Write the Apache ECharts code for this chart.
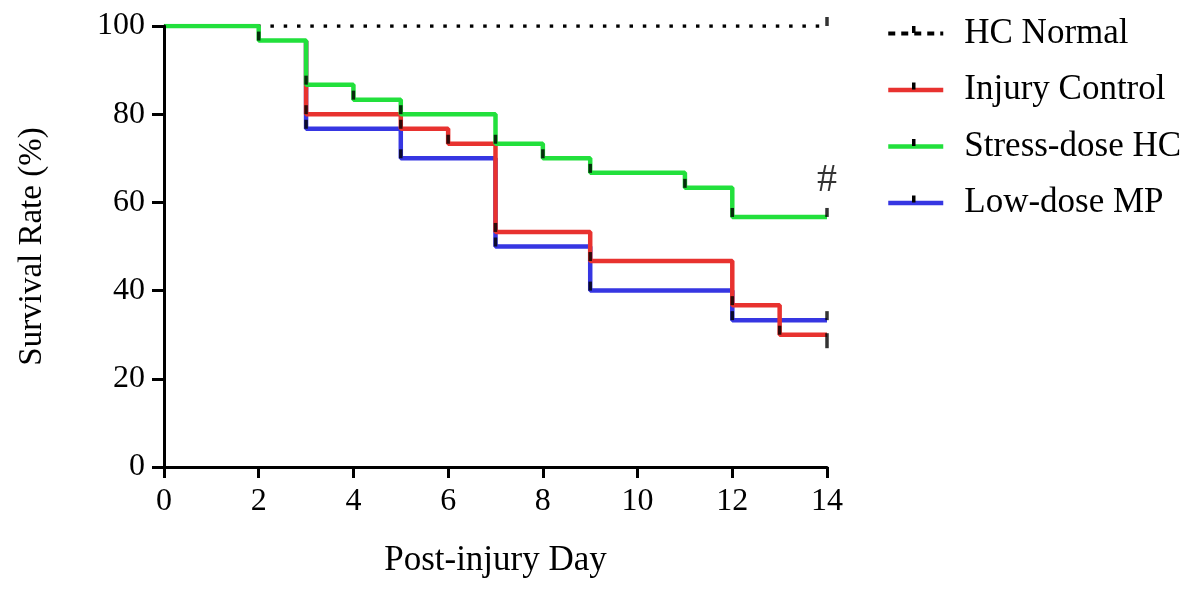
<!DOCTYPE html>
<html><head><meta charset="utf-8">
<script src="https://cdn.jsdelivr.net/npm/echarts@6/dist/echarts.min.js"></script>
<style>html,body{margin:0;padding:0;background:#fff}#c{width:1200px;height:589px}</style>
</head><body><div id="c"></div>
<script>
// ---- data (Kaplan-Meier survival, %) ----
const hcNormalDays = [0, 14];
const hcNormalSurv = [100, 100];
const injuryDays = [0, 3, 5, 6, 7, 9, 12, 13, 14];
const injurySurv = [100, 80, 76.7, 73.3, 53.3, 46.7, 36.7, 30, 30];
const stressDays = [0, 2, 3, 4, 5, 7, 8, 9, 11, 12, 14];
const stressSurv = [100, 96.7, 86.7, 83.3, 80, 73.3, 70, 66.7, 63.3, 56.7, 56.7];
const lowDays = [0, 3, 5, 7, 9, 12, 14];
const lowSurv = [100, 76.7, 70, 50, 40, 33.3, 33.3];
const seriesNames = ['HC Normal', 'Injury Control', 'Stress-dose HC', 'Low-dose MP'];
const sigLabel = '#';

const FONT = 'Liberation Serif';
const C_GREEN = '#22e03c', C_RED = '#e8322f', C_BLUE = '#3636e2';
const LW = 4.5;

const pairs = (d, s) => d.map((x, i) => [x, s[i]]);
const ticksOf = (d, s) => d.slice(1).map((x, i) => [x, s[i + 1]]);

const tickBase = {
  type: 'scatter', symbol: 'rect', symbolSize: [3.5, 9], symbolOffset: [0, '-50%'],
  itemStyle: { color: '#000' }, z: 10, silent: true
};

const injTicks = ticksOf(injuryDays, injurySurv).map((p, i, a) =>
  i === a.length - 1 ? { value: p, symbolSize: [3.5, 15], symbolOffset: [0, 6] } : { value: p });
const stTicks = ticksOf(stressDays, stressSurv).map((p, i, a) =>
  i === a.length - 1 ? { value: p, label: { show: true, formatter: sigLabel, position: 'top', distance: 7,
    fontFamily: FONT, fontSize: 40, color: '#000' } } : { value: p });

const option = {
  animation: false,
  backgroundColor: '#fff',
  grid: { left: 164, right: 373, top: 26, bottom: 122 },
  xAxis: {
    type: 'value', min: 0, max: 14, interval: 2, z: 20,
    name: 'Post-injury Day', nameLocation: 'middle', nameGap: 76,
    nameTextStyle: { fontFamily: FONT, fontSize: 35, color: '#000' },
    axisLine: { lineStyle: { color: '#000', width: 3 } },
    axisTick: { length: 11, lineStyle: { color: '#000', width: 3 } },
    axisLabel: { fontFamily: FONT, fontSize: 32, color: '#000', margin: 19 },
    splitLine: { show: false }
  },
  yAxis: {
    type: 'value', min: 0, max: 100, interval: 20, z: 20,
    name: 'Survival Rate (%)', nameLocation: 'middle', nameGap: 115,
    nameTextStyle: { fontFamily: FONT, fontSize: 33, color: '#000' },
    axisLine: { show: true, lineStyle: { color: '#000', width: 3 } },
    axisTick: { show: true, length: 12, lineStyle: { color: '#000', width: 3 } },
    axisLabel: { fontFamily: FONT, fontSize: 32, color: '#000', margin: 19 },
    splitLine: { show: false }
  },
  legend: {
    orient: 'vertical', left: 886, top: 16, padding: 0, itemWidth: 55, itemHeight: 14, itemGap: 21.5,
    itemStyle: { opacity: 0 },
    textStyle: { fontFamily: FONT, fontSize: 35, color: '#000', lineHeight: 35, padding: [0, 0, 0, 16] },
    data: [
      { name: seriesNames[0], lineStyle: { type: [7, 6], width: 4, color: '#000' } },
      { name: seriesNames[1], lineStyle: { width: 4.5 } },
      { name: seriesNames[2], lineStyle: { width: 4.5 } },
      { name: seriesNames[3], lineStyle: { width: 4.5 } }
    ],
    selectedMode: false
  },
  graphic: [0, 1, 2, 3].map(i => ({
    type: 'rect', left: 912, top: 26 + i * 56.5, shape: { width: 3.5, height: 7 },
    style: { fill: '#000' }, z: 100
  })),
  series: [
    { name: seriesNames[3], type: 'line', step: 'end', symbol: 'none', data: pairs(lowDays, lowSurv),
      lineStyle: { color: C_BLUE, width: LW }, itemStyle: { color: C_BLUE }, z: 2 },
    { name: seriesNames[1], type: 'line', step: 'end', symbol: 'none', data: pairs(injuryDays, injurySurv),
      lineStyle: { color: C_RED, width: LW }, itemStyle: { color: C_RED }, z: 3 },
    { name: 'cover', type: 'line', symbol: 'none', data: pairs(hcNormalDays, hcNormalSurv),
      lineStyle: { color: '#fff', width: 30, cap: 'butt' }, z: 4, silent: true },
    { name: seriesNames[0], type: 'line', symbol: 'none', data: pairs(hcNormalDays, hcNormalSurv),
      lineStyle: { color: '#000', width: 3.5, type: [3.5, 9.8] }, itemStyle: { color: '#000' }, z: 5 },
    { name: seriesNames[2], type: 'line', step: 'end', symbol: 'none', data: pairs(stressDays, stressSurv),
      lineStyle: { color: C_GREEN, width: LW }, itemStyle: { color: C_GREEN }, z: 6 },
    Object.assign({}, tickBase, { data: ticksOf(hcNormalDays, hcNormalSurv) }),
    Object.assign({}, tickBase, { data: injTicks }),
    Object.assign({}, tickBase, { data: stTicks }),
    Object.assign({}, tickBase, { data: ticksOf(lowDays, lowSurv) })
  ]
};
const chart = echarts.init(document.getElementById('c'), null, { renderer: 'canvas' });
chart.setOption(option);
</script></body></html>
